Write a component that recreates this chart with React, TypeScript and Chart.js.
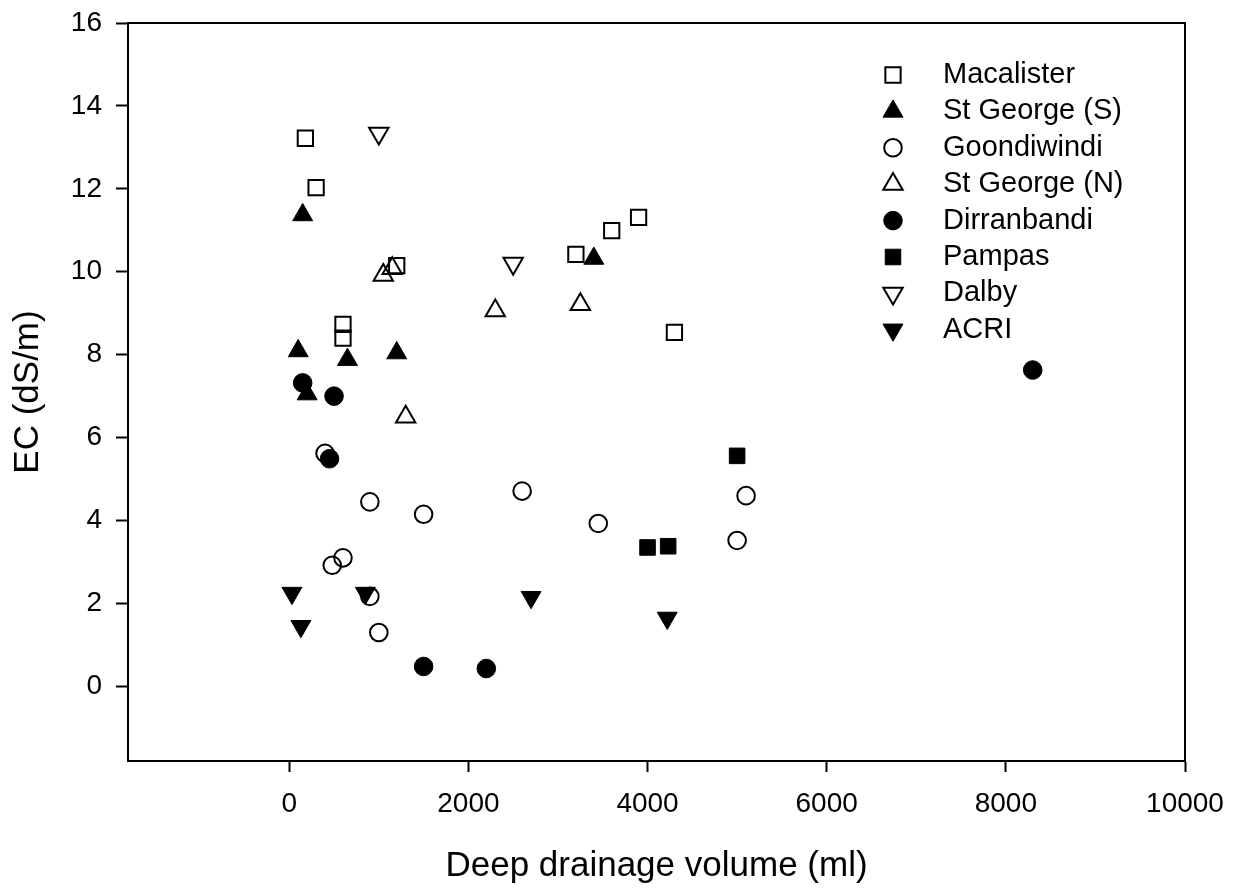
import React, { useEffect, useRef } from 'react';
import { Chart, registerables } from 'chart.js';
import { drawPoint } from 'chart.js/helpers';

Chart.register(...registerables);

// ---- data ----
const seriesNames = ['Macalister', 'St George (S)', 'Goondiwindi', 'St George (N)', 'Dirranbandi', 'Pampas', 'Dalby', 'ACRI'];

const macalisterX = [180, 300, 600, 600, 1200, 3200, 3600, 3900, 4300];
const macalisterY = [13.22, 12.03, 8.73, 8.4, 10.15, 10.42, 10.99, 11.31, 8.54];

const stGeorgeSX = [150, 100, 650, 1200, 200, 3400];
const stGeorgeSY = [11.37, 8.09, 7.88, 8.04, 7.05, 10.32];

const goondiwindiX = [400, 900, 1500, 2600, 600, 480, 900, 1000, 3450, 5100, 5000];
const goondiwindiY = [5.62, 4.45, 4.15, 4.71, 3.1, 2.92, 2.17, 1.3, 3.93, 4.6, 3.52];

const stGeorgeNX = [1050, 1150, 2300, 3250, 1300];
const stGeorgeNY = [9.92, 10.08, 9.06, 9.21, 6.5];

const dirranbandiX = [150, 500, 450, 1500, 2200, 8300];
const dirranbandiY = [7.32, 7.0, 5.49, 0.48, 0.43, 7.63];

const pampasX = [4000, 4230, 5000];
const pampasY = [3.35, 3.38, 5.56];

const dalbyX = [1000, 2500];
const dalbyY = [13.34, 10.2];

const acriX = [30, 130, 850, 2700, 4220];
const acriY = [2.25, 1.45, 2.25, 2.15, 1.65];

const xTickValues = [0, 2000, 4000, 6000, 8000, 10000];
const yTickValues = [0, 2, 4, 6, 8, 10, 12, 14, 16];

const xTitle = 'Deep drainage volume (ml)';
const yTitle = 'EC (dS/m)';

// ---- style ----
const FONT = '"Liberation Sans", Arial, sans-serif';
const BLACK = '#000000';
const NONE = 'rgba(0,0,0,0)';

const toPoints = (xs: number[], ys: number[]) => xs.map((x, i) => ({ x, y: ys[i] }));

type Marker = { style: string; filled: boolean; rotation: number; radius: number };
const markers: Marker[] = [
  { style: 'rect', filled: false, rotation: 0, radius: 10.8 },
  { style: 'triangle', filled: true, rotation: 0, radius: 11.5 },
  { style: 'circle', filled: false, rotation: 0, radius: 8.8 },
  { style: 'triangle', filled: false, rotation: 0, radius: 11.2 },
  { style: 'circle', filled: true, rotation: 0, radius: 9.3 },
  { style: 'rect', filled: true, rotation: 0, radius: 11 },
  { style: 'triangle', filled: false, rotation: 180, radius: 11.2 },
  { style: 'triangle', filled: true, rotation: 180, radius: 11.5 },
];

const seriesData = [
  toPoints(macalisterX, macalisterY),
  toPoints(stGeorgeSX, stGeorgeSY),
  toPoints(goondiwindiX, goondiwindiY),
  toPoints(stGeorgeNX, stGeorgeNY),
  toPoints(dirranbandiX, dirranbandiY),
  toPoints(pampasX, pampasY),
  toPoints(dalbyX, dalbyY),
  toPoints(acriX, acriY),
];

const LEGEND_MARKER_X = 893;
const LEGEND_TEXT_X = 943;
const LEGEND_TOP = 75;
const LEGEND_STEP = 36.4;

const legendPlugin = {
  id: 'customLegend',
  afterDraw(chart: any) {
    const ctx = chart.ctx as CanvasRenderingContext2D;
    ctx.save();
    chart.data.datasets.forEach((ds: any, i: number) => {
      const y = LEGEND_TOP + i * LEGEND_STEP;
      ctx.fillStyle = ds.pointBackgroundColor;
      ctx.strokeStyle = ds.pointBorderColor;
      ctx.lineWidth = ds.pointBorderWidth;
      drawPoint(ctx, {
        pointStyle: ds.pointStyle,
        rotation: ds.pointRotation,
        radius: ds.pointRadius,
        borderWidth: ds.pointBorderWidth,
      } as any, LEGEND_MARKER_X, y);
      ctx.fillStyle = BLACK;
      ctx.font = `29px ${FONT}`;
      ctx.textAlign = 'left';
      ctx.textBaseline = 'middle';
      ctx.fillText(ds.label, LEGEND_TEXT_X, y);
    });
    ctx.restore();
  },
};

const framePlugin = {
  id: 'frame',
  afterDraw(chart: any) {
    const { ctx, chartArea } = chart;
    ctx.save();
    ctx.strokeStyle = BLACK;
    ctx.lineWidth = 2;
    ctx.strokeRect(chartArea.left, chartArea.top, chartArea.right - chartArea.left, chartArea.bottom - chartArea.top);
    ctx.restore();
  },
};

const zeroPadding = (scale: any) => {
  scale.paddingTop = 0;
  scale.paddingBottom = 0;
  scale.paddingLeft = 0;
  scale.paddingRight = 0;
};

export default function App() {
  const canvasRef = useRef<HTMLCanvasElement | null>(null);

  useEffect(() => {
    document.body.style.margin = '0';
    const canvas = canvasRef.current;
    if (!canvas) return;

    const datasets = seriesNames.map((name, i) => {
      const m = markers[i];
      return {
        label: name,
        data: seriesData[i],
        pointStyle: m.style,
        pointRotation: m.rotation,
        pointRadius: m.radius,
        pointHoverRadius: m.radius,
        pointBackgroundColor: m.filled ? BLACK : NONE,
        pointBorderColor: BLACK,
        pointBorderWidth: m.filled ? 1 : 2,
        backgroundColor: m.filled ? BLACK : NONE,
        borderColor: BLACK,
        showLine: false,
      };
    });

    const chart = new Chart(canvas, {
      type: 'scatter',
      data: { datasets } as any,
      options: {
        responsive: false,
        animation: false,
        devicePixelRatio: 1,
        layout: { padding: { top: 23, right: 52, left: 0, bottom: 0 } },
        plugins: {
          legend: { display: false },
          tooltip: { enabled: false },
        },
        scales: {
          x: {
            type: 'linear',
            min: -1800,
            max: 10000,
            afterFit: (scale: any) => { scale.height = 127; zeroPadding(scale); },
            afterBuildTicks: (scale: any) => { scale.ticks = xTickValues.map((v) => ({ value: v })); },
            grid: { display: true, drawOnChartArea: false, drawTicks: true, tickLength: 11, tickWidth: 2, tickColor: BLACK },
            border: { display: true, color: BLACK, width: 2 },
            ticks: {
              color: BLACK, font: { family: FONT, size: 28 }, padding: 15, maxRotation: 0, autoSkip: false,
              callback: (v: any) => String(v),
            },
            title: { display: true, text: xTitle, color: BLACK, font: { family: FONT, size: 35 }, padding: { top: 0, bottom: 1 } },
          },
          y: {
            type: 'linear',
            min: -1.8,
            max: 16,
            afterFit: (scale: any) => { scale.width = 128; zeroPadding(scale); },
            afterBuildTicks: (scale: any) => { scale.ticks = yTickValues.map((v) => ({ value: v })); },
            grid: { display: true, drawOnChartArea: false, drawTicks: true, tickLength: 12, tickWidth: 2, tickColor: BLACK },
            border: { display: true, color: BLACK, width: 2 },
            ticks: {
              color: BLACK, font: { family: FONT, size: 28 }, padding: 14, autoSkip: false,
              callback: (v: any) => String(v),
            },
            title: { display: true, text: yTitle, color: BLACK, font: { family: FONT, size: 35 }, padding: { top: 7, bottom: 0 } },
          },
        },
      } as any,
      plugins: [legendPlugin, framePlugin],
    });

    return () => { chart.destroy(); };
  }, []);

  return (
    <div style={{ width: 1237, height: 888, background: '#ffffff' }}>
      <canvas ref={canvasRef} width={1237} height={888} style={{ display: 'block' }} />
    </div>
  );
}
